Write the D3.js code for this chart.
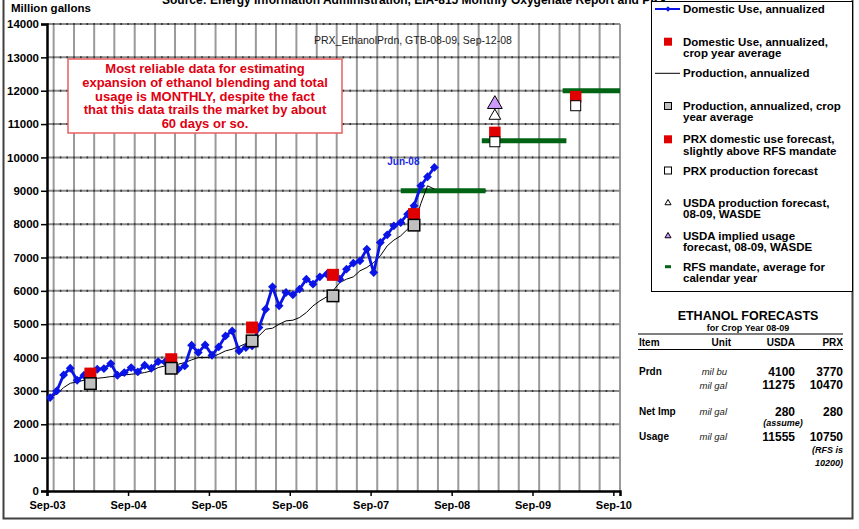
<!DOCTYPE html>
<html><head><meta charset="utf-8">
<script src="https://cdn.jsdelivr.net/npm/d3@7"></script>
<style>
body{margin:0;background:#fff}
svg{display:block}
text{font-family:"Liberation Sans",Arial,Helvetica,sans-serif}
</style>
</head><body>
<svg id="chart" width="859" height="529"></svg>
<script>
// ---------------- DATA ----------------
const firstMonth = "2003-09"; // monthly series start (plotted mid-month)
const domesticUse = [2800,3000,3480,3680,3320,3470,3560,3650,3670,3820,3470,3550,
  3700,3570,3770,3680,3880,3870,3750,3650,3750,4370,4150,4380,
  4070,4320,4650,4800,4200,4300,4350,4900,5450,6120,5550,5950,
  5880,6050,6350,6200,6420,6500,6450,6350,6650,6830,6900,7250,
  6550,7450,7680,7950,8050,8300,8550,9150,9420,9700];
const production = [2820,2900,3100,3230,3270,3320,3350,3380,3400,3430,3430,3480,
  3500,3520,3550,3600,3700,3750,3770,3800,3850,3930,4000,4000,
  4020,4100,4200,4250,4330,4420,4480,4650,4850,4880,5000,5100,
  5120,5200,5350,5550,5700,5820,6000,6250,6350,6420,6600,6700,
  6850,7050,7350,7520,7650,7850,7950,8620,9150,9050];
const cropYearMonths = ["2004-03","2005-03","2006-03","2007-03","2008-03"];
const domesticCropAvg = [3520,3950,4900,6480,8300];
const productionCropAvg = [3220,3680,4500,5850,7970];
const forecastMonths = ["2009-03","2010-03"];
const prxUseForecast = [10750,11820];
const prxProdForecast = [10470,11550];
const usdaMonth = "2009-03";
const usdaProdForecast = [11275];
const usdaUsageForecast = [11640];
const rfsYears = [2008,2009,2010];
const rfsMandate = [9000,10500,12000];
const yTicks = d3.range(0,14001,1000);
const xTickLabels = ["Sep-03","Sep-04","Sep-05","Sep-06","Sep-07","Sep-08","Sep-09","Sep-10"];
const lastLabel = "Jun-08";

const legendItems = [
  {kind:"blue", lines:["Domestic Use, annualized"]},
  {kind:"redsq", lines:["Domestic Use, annualized,","crop year average"]},
  {kind:"black", lines:["Production, annualized"]},
  {kind:"greysq", lines:["Production, annualized, crop","year average"]},
  {kind:"redsq", lines:["PRX domestic use forecast,","slightly above RFS mandate"]},
  {kind:"whitesq", lines:["PRX production forecast"]},
  {kind:"whitetri", lines:["USDA production forecast,","08-09, WASDE"]},
  {kind:"purpletri", lines:["USDA implied usage","forecast, 08-09, WASDE"]},
  {kind:"green", lines:["RFS mandate, average for","calendar year"]}
];
const tableHeader = ["Item","Unit","USDA","PRX"];
const tableRows = [
  {item:"Prdn", unit:"mil bu", usda:"4100", prx:"3770"},
  {item:"", unit:"mil gal", usda:"11275", prx:"10470"},
  {item:"Net Imp", unit:"mil gal", usda:"280", prx:"280", usdaNote:"(assume)"},
  {item:"Usage", unit:"mil gal", usda:"11555", prx:"10750", prxNote:["(RFS is","10200)"]}
];

// ---------------- HELPERS ----------------
const pm = d3.timeParse("%Y-%m");
const mid = s => { const d = pm(s); return new Date(d.getFullYear(), d.getMonth(), 15); };
const start = mid(firstMonth);
const monthDate = i => new Date(start.getFullYear(), start.getMonth()+i, 15);

const svg = d3.select("#chart");
const L = 47, R = 620, T = 24, B = 491;
const x = d3.scaleTime().domain([new Date(2003,8,1), new Date(2010,9,1)]).range([L,R]);
const y = d3.scaleLinear().domain([0,14000]).range([B,T]);
const FONT = '"Liberation Sans",Arial,sans-serif';
const BLUE = "#0a14e6";

// outer border
svg.append("rect").attr("x",3.5).attr("y",-5).attr("width",849).attr("height",523.5)
  .attr("fill","#fff").attr("stroke","#404040").attr("stroke-width",2);

// title (clipped at top)
svg.append("text").attr("x",162).attr("y",3.5).attr("font-size",12).attr("font-weight","bold")
  .attr("fill","#000").text("Source: Energy Information Administration, EIA-815 Monthly Oxygenate Report and PRX");

svg.append("text").attr("x",11).attr("y",11.5).attr("font-size",11.5).attr("font-weight","bold")
  .text("Million gallons");

// gridlines
const quarters = d3.timeMonth.every(3).range(new Date(2003,8,1), new Date(2010,9,2));
const g = svg.append("g");
g.selectAll("line.vq").data(quarters.filter(d=>d.getMonth()!==8)).join("line")
  .attr("x1",d=>x(d)).attr("x2",d=>x(d)).attr("y1",T).attr("y2",B)
  .attr("stroke","#9a9a9a").attr("stroke-width",2);
g.selectAll("line.vy").data(quarters.filter(d=>d.getMonth()===8 && d>new Date(2003,9,1))).join("line")
  .attr("x1",d=>x(d)).attr("x2",d=>x(d)).attr("y1",T).attr("y2",B)
  .attr("stroke","#444").attr("stroke-width",1.2);
g.selectAll("line.h").data(yTicks.slice(1)).join("line")
  .attr("x1",L).attr("x2",R).attr("y1",d=>y(d)).attr("y2",d=>y(d))
  .attr("stroke","#8a8a8a").attr("stroke-width",2);
// monthly dark marks on horizontal gridlines
const monthsAll = d3.timeMonth.range(new Date(2003,9,1), new Date(2010,9,1));
yTicks.slice(1).forEach(v=>{
  g.selectAll(null).data(monthsAll).join("line")
   .attr("x1",d=>x(d)-0.8).attr("x2",d=>x(d)+0.8).attr("y1",y(v)).attr("y2",y(v))
   .attr("stroke","#333").attr("stroke-width",2);
});

// annotation box
svg.append("rect").attr("x",68).attr("y",59).attr("width",274).attr("height",74)
  .attr("fill","#fff").attr("stroke","#e86060").attr("stroke-width",1.5);
const ann = ["Most reliable data for estimating","expansion of ethanol blending and total",
  "usage is MONTHLY, despite the fact","that this data trails the market by about","60 days or so."];
svg.append("g").selectAll("text").data(ann).join("text")
  .attr("x",205).attr("y",(d,i)=>73+i*13.8).attr("text-anchor","middle")
  .attr("font-size",13).attr("font-weight","bold").attr("fill","#e00010").text(d=>d);

svg.append("text").attr("x",314).attr("y",43.5).attr("font-size",10.5).attr("fill","#222")
  .text("PRX_EthanolPrdn, GTB-08-09, Sep-12-08");

// axes
const yAxis = d3.axisLeft(y).tickValues(yTicks).tickSize(6).tickFormat(d3.format("d"));
const ya = svg.append("g").attr("transform",`translate(${L},0)`).call(yAxis);
ya.select(".domain").attr("stroke","#000").attr("stroke-width",2.5);
ya.selectAll(".tick line").attr("stroke","#000").attr("stroke-width",1.5);
ya.selectAll("text").attr("font-size",11.5).attr("font-weight","bold").attr("font-family",FONT).attr("fill","#000").attr("x",-8);

const yearTicks = d3.timeYear.range(new Date(2003,0,1), new Date(2011,0,1)).map(d=>new Date(d.getFullYear(),8,1));
const xAxis = d3.axisBottom(x).tickValues(yearTicks).tickSize(5).tickFormat((d,i)=>xTickLabels[i]);
const xa = svg.append("g").attr("transform",`translate(0,${B})`).call(xAxis);
xa.select(".domain").attr("stroke","#000").attr("stroke-width",2.5);
xa.selectAll(".tick line").attr("stroke","#000").attr("stroke-width",1.5);
xa.selectAll("text").attr("font-size",11).attr("font-weight","bold").attr("font-family",FONT).attr("fill","#000").attr("dy","0.9em");

// clip
svg.append("clipPath").attr("id","pc").append("rect").attr("x",L).attr("y",T-10).attr("width",R-L).attr("height",B-T+10);
const p = svg.append("g").attr("clip-path","url(#pc)");

// RFS mandate
p.selectAll("line.rfs").data(rfsYears).join("line")
  .attr("x1",d=>x(new Date(d,0,15))).attr("x2",d=>x(new Date(d+1,1,1)))
  .attr("y1",(d,i)=>y(rfsMandate[i])).attr("y2",(d,i)=>y(rfsMandate[i]))
  .attr("stroke","#006414").attr("stroke-width",5);

// production line
p.append("path").datum(production).attr("fill","none").attr("stroke","#000").attr("stroke-width",1)
  .attr("d",d3.line().x((d,i)=>x(monthDate(i))).y(d=>y(d)));

// domestic use line + diamonds
p.append("path").datum(domesticUse).attr("fill","none").attr("stroke",BLUE).attr("stroke-width",2.8)
  .attr("d",d3.line().x((d,i)=>x(monthDate(i))).y(d=>y(d)));
const diamond = d3.symbol().type(d3.symbolDiamond2).size(50);
p.selectAll("path.dm").data(domesticUse).join("path")
  .attr("transform",(d,i)=>`translate(${x(monthDate(i))},${y(d)})`)
  .attr("d",diamond).attr("fill",BLUE);

svg.append("text").attr("x",x(monthDate(domesticUse.length-1))-31).attr("y",y(domesticUse[domesticUse.length-1])-2)
  .attr("text-anchor","middle").attr("font-size",10).attr("font-weight","bold").attr("fill","#1a2ae0").text(lastLabel);

// crop year averages
const sq = (sel, data, dates, size, fill, stroke, sw) => sel.append("g").selectAll("rect").data(data).join("rect")
  .attr("x",(d,i)=>x(mid(dates[i]))-size/2).attr("y",d=>y(d)-size/2)
  .attr("width",size).attr("height",size).attr("fill",fill)
  .attr("stroke",stroke||"none").attr("stroke-width",sw||0);
sq(p, domesticCropAvg, cropYearMonths, 12, "#e00000");
sq(p, productionCropAvg, cropYearMonths, 11.5, "#c0c0c0", "#000", 1.5);
sq(p, prxUseForecast, forecastMonths, 11.5, "#e00000");
sq(p, prxProdForecast, forecastMonths, 10, "#fff", "#000", 1);

const tri = (size) => d3.symbol().type(d3.symbolTriangle).size(size);
p.append("path").attr("transform",`translate(${x(mid(usdaMonth))},${y(usdaProdForecast[0])+1})`)
  .attr("d",tri(60)).attr("fill","#fff").attr("stroke","#000").attr("stroke-width",1);
p.append("path").attr("transform",`translate(${x(mid(usdaMonth))},${y(usdaUsageForecast[0])+1.5})`)
  .attr("d",tri(95)).attr("fill","#cc99ff").attr("stroke","#000").attr("stroke-width",1);

// legend
const lg = svg.append("g");
lg.append("rect").attr("x",651.5).attr("y",1.5).attr("width",201).attr("height",290)
  .attr("fill","#fff").attr("stroke","#000").attr("stroke-width",1);
const itemY = [9,41.7,73.3,106,139.3,170.5,202.5,235.5,266.7];
legendItems.forEach((it,i)=>{
  const cy = itemY[i], sx = 668;
  const gg = lg.append("g");
  if(it.kind==="blue"){
    gg.append("line").attr("x1",655).attr("x2",680).attr("y1",cy).attr("y2",cy).attr("stroke",BLUE).attr("stroke-width",2);
    gg.append("path").attr("transform",`translate(${sx},${cy})`).attr("d",d3.symbol().type(d3.symbolDiamond2).size(20)).attr("fill",BLUE);
  } else if(it.kind==="black"){
    gg.append("line").attr("x1",655).attr("x2",680).attr("y1",cy).attr("y2",cy).attr("stroke","#000").attr("stroke-width",1);
  } else if(it.kind==="redsq"){
    gg.append("rect").attr("x",sx-4).attr("y",cy-4).attr("width",8).attr("height",8).attr("fill","#e00000");
  } else if(it.kind==="greysq"){
    gg.append("rect").attr("x",sx-3.5).attr("y",cy-3.5).attr("width",7).attr("height",7).attr("fill","#c0c0c0").attr("stroke","#000").attr("stroke-width",1);
  } else if(it.kind==="whitesq"){
    gg.append("rect").attr("x",sx-3.5).attr("y",cy-3.5).attr("width",7).attr("height",7).attr("fill","#fff").attr("stroke","#000").attr("stroke-width",1);
  } else if(it.kind==="whitetri"){
    gg.append("path").attr("transform",`translate(${sx},${cy+0.5})`).attr("d",tri(16)).attr("fill","#fff").attr("stroke","#000").attr("stroke-width",1);
  } else if(it.kind==="purpletri"){
    gg.append("path").attr("transform",`translate(${sx},${cy+0.5})`).attr("d",tri(16)).attr("fill","#cc99ff").attr("stroke","#000").attr("stroke-width",1);
  } else if(it.kind==="green"){
    gg.append("line").attr("x1",sx-3).attr("x2",sx+3).attr("y1",cy).attr("y2",cy).attr("stroke","#006414").attr("stroke-width",3);
  }
  gg.selectAll("text").data(it.lines).join("text")
    .attr("x",683).attr("y",(d,j)=>cy+4+j*11.3)
    .attr("font-size",11.5).attr("font-weight","bold").attr("fill","#000").text(d=>d);
});

// forecast table
const tb = svg.append("g");
tb.append("text").attr("x",748).attr("y",320).attr("text-anchor","middle").attr("font-size",12.5).attr("font-weight","bold").text("ETHANOL FORECASTS");
tb.append("text").attr("x",748).attr("y",330.5).attr("text-anchor","middle").attr("font-size",9).attr("font-weight","bold").text("for Crop Year 08-09");
tb.append("line").attr("x1",638).attr("x2",843).attr("y1",334).attr("y2",334).attr("stroke","#000").attr("stroke-width",1);
tb.append("line").attr("x1",638).attr("x2",843).attr("y1",349.5).attr("y2",349.5).attr("stroke","#000").attr("stroke-width",1);
const colX = [639,731,795,843], colA = ["start","end","end","end"];
tableHeader.forEach((h,i)=>tb.append("text").attr("x",colX[i]).attr("y",346).attr("text-anchor",colA[i])
  .attr("font-size",10).attr("font-weight","bold").text(h));
const rowY = [375.5,389,415.5,440.5];
tableRows.forEach((r,i)=>{
  const yy = rowY[i];
  if(r.item) tb.append("text").attr("x",639).attr("y",yy-0.5).attr("font-size",10).attr("font-weight","bold").text(r.item);
  tb.append("text").attr("x",727).attr("y",yy-0.5).attr("text-anchor","end").attr("font-size",9.5).attr("font-style","italic").attr("fill","#222").text(r.unit);
  tb.append("text").attr("x",795).attr("y",yy).attr("text-anchor","end").attr("font-size",12).attr("font-weight","bold").text(r.usda);
  tb.append("text").attr("x",843).attr("y",yy).attr("text-anchor","end").attr("font-size",12).attr("font-weight","bold").text(r.prx);
  if(r.usdaNote) tb.append("text").attr("x",783).attr("y",yy+10.5).attr("text-anchor","middle").attr("font-size",9).attr("font-weight","bold").attr("font-style","italic").text(r.usdaNote);
  if(r.prxNote) r.prxNote.forEach((t,j)=>tb.append("text").attr("x",843).attr("y",yy+12.5+j*12.7).attr("text-anchor","end").attr("font-size",9).attr("font-weight","bold").attr("font-style","italic").text(t));
});
</script>
</body></html>
